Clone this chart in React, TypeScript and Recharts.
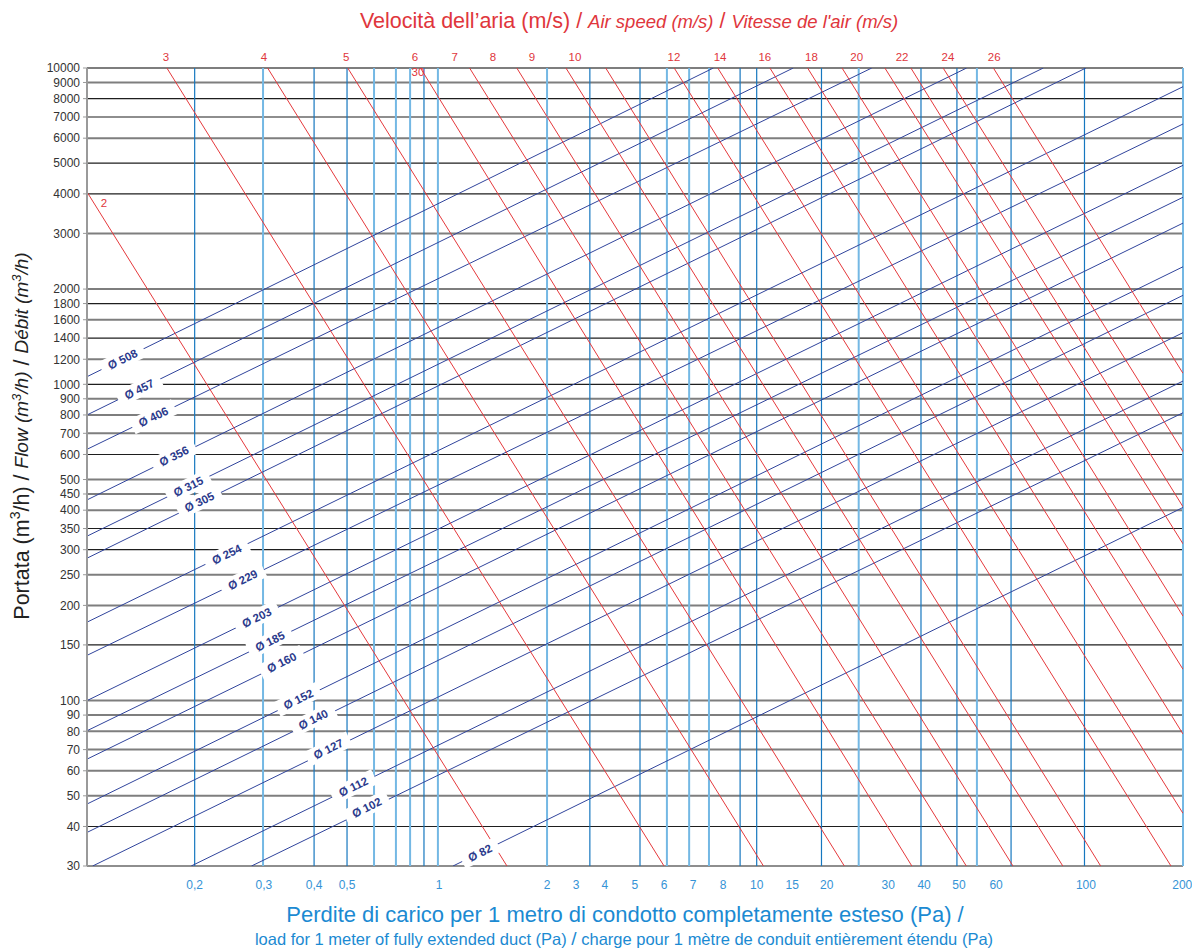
import React from "react";
import {
  ComposedChart,
  Line,
  XAxis,
  YAxis,
  ReferenceLine,
  ReferenceDot,
} from "recharts";

const FONT = '"Liberation Sans", Arial, Helvetica, sans-serif';

// flow axis, m3/h
const flowTicks = [
  30, 40, 50, 60, 70, 80, 90, 100, 150, 200, 250, 300, 350, 400, 450, 500,
  600, 700, 800, 900, 1000, 1200, 1400, 1600, 1800, 2000, 3000, 4000, 5000,
  6000, 7000, 8000, 9000, 10000,
];
const flowLinesDark = [30, 40, 150, 300, 350, 600, 1000, 1400, 1800, 4000, 5000, 7000, 8000];

// pressure loss axis, Pa (vertical rules as they sit in the drawing)
const paRulesDark = [0.211, 0.483, 0.607, 1.035, 3.27, 4.63, 9.27, 10.4, 16.3, 32.5, 41.7, 60.7, 101];
const paRulesLight = [0.339, 0.732, 0.852, 0.94, 1.14, 2.43, 5.58, 6.51, 7.47, 21.1, 47.9, 200];

// bottom labels and where each one is printed
const paTickLabels = ["0,2", "0,3", "0,4", "0,5", "1", "2", "3", "4", "5", "6", "7", "8", "10", "15", "20", "30", "40", "50", "60", "100", "200"];
const paTickAt = [0.211, 0.341, 0.483, 0.607, 1.149, 2.43, 2.97, 3.63, 4.47, 5.47, 6.69, 8.24, 10.4, 13.3, 16.9, 25.9, 33.2, 42.3, 54.7, 102, 199];

// air speed lines (m/s): entry and exit points [Pa, m3/h]
const speeds = [2, 3, 4, 5, 6, 7, 8, 9, 10, 12, 14, 16, 18, 20, 22, 24, 26, 30];
const speedStart: [number, number][] = [
  [0.1, 4055], [0.174, 10000], [0.35, 10000], [0.61, 10000], [1.01, 10000],
  [1.42, 10000], [1.97, 10000], [2.77, 10000], [3.65, 10000], [5.87, 10000],
  [7.94, 10000], [11.4, 10000], [14.8, 10000], [18.8, 10000], [25.3, 10000],
  [30.3, 10000], [37.9, 10000], [53.7, 10000],
];
const speedEnd: [number, number][] = [
  [1.84, 30], [5.47, 30], [10.9, 30], [19.1, 30], [30.5, 30], [44.5, 30],
  [61.5, 30], [86.9, 30], [113, 30], [184, 30], [200, 44], [200, 78.4],
  [200, 125.6], [200, 185], [200, 313], [200, 410], [200, 612], [200, 1083],
];
const speedLabelAt: [number, number][] = [
  [0.1125, 3743], [0.173, 10830], [0.341, 10830], [0.603, 10830], [0.973, 10830],
  [1.28, 10830], [1.67, 10830], [2.19, 10830], [2.95, 10830], [5.86, 10830],
  [8.07, 10830], [11.0, 10830], [15.2, 10830], [20.8, 10830], [28.5, 10830],
  [39.2, 10830], [54.0, 10830], [0.993, 9713],
];

// duct diameter lines (mm): entry and exit points [Pa, m3/h]
const diameters = [508, 457, 406, 356, 315, 305, 254, 229, 203, 185, 160, 152, 140, 127, 112, 102, 82];
const ductStart: [number, number][] = [
  [0.1, 1057], [0.1, 800], [0.1, 623], [0.1, 431], [0.1, 331], [0.1, 282],
  [0.1, 177], [0.1, 139], [0.1, 100], [0.1, 80.3], [0.1, 65.3], [0.1, 47.1],
  [0.1, 38.3], [0.104, 30], [0.206, 30], [0.313, 30], [1.266, 30],
];
const ductEnd: [number, number][] = [
  [7.7, 10000], [13.4, 10000], [23.1, 10000], [44.6, 10000], [75.9, 10000],
  [102, 10000], [200, 8728], [200, 6652], [200, 4924], [200, 3902],
  [200, 3233], [200, 2353], [200, 1911], [200, 1456], [200, 1024],
  [200, 813], [200, 408],
];
const ductLabelAt: [number, number][] = [
  [0.128, 1200], [0.1437, 964], [0.1584, 789], [0.1828, 593], [0.2019, 475],
  [0.2179, 425], [0.2635, 290], [0.2944, 241], [0.3245, 183], [0.3558, 154],
  [0.3859, 132], [0.4329, 101], [0.4803, 87.2], [0.5331, 70.3],
  [0.6343, 53.4], [0.6958, 45.9], [1.527, 33],
];

const RED = "#e5393c";
const NAVY = "#30449c";
const BLUE_DARK = "#1677bf";
const BLUE_LIGHT = "#74b8e4";

function DuctTag({ cx, cy, text }: { cx: number; cy: number; text: string }) {
  const w = text.length * 7.4 + 10;
  return (
    <g transform={`translate(${cx},${cy}) rotate(-26)`}>
      <rect x={-w / 2} y={-8} width={w} height={16} fill="#fff" />
      <text
        x={0}
        y={0}
        textAnchor="middle"
        dominantBaseline="central"
        fontFamily={FONT}
        fontSize={11.5}
        fontWeight="bold"
        fill="#2b3a8c"
      >
        {text}
      </text>
    </g>
  );
}

function SpeedTag({ cx, cy, text }: { cx: number; cy: number; text: string }) {
  return (
    <text
      x={cx}
      y={cy}
      textAnchor="middle"
      dominantBaseline="central"
      fontFamily={FONT}
      fontSize={11.5}
      fill="#e0363c"
    >
      {text}
    </text>
  );
}

const toPts = (a: [number, number], b: [number, number]) => [
  { x: a[0], y: a[1] },
  { x: b[0], y: b[1] },
];

export default function App() {
  return (
    <div style={{ position: "relative", width: 1192, height: 949, fontFamily: FONT }}>
      <style>{`body{margin:0}`}</style>

      <div
        style={{
          position: "absolute",
          left: 629,
          top: 9,
          transform: "translateX(-50%)",
          whiteSpace: "nowrap",
          color: "#e0363c",
          fontSize: 21.5,
          lineHeight: "24px",
        }}
      >
        Velocità dell’aria (m/s) / <i style={{ fontSize: 18.5 }}>Air speed (m/s)</i> /{" "}
        <i style={{ fontSize: 18.5 }}>Vitesse de l'air (m/s)</i>
      </div>

      <div
        style={{
          position: "absolute",
          left: 19,
          top: 436,
          transform: "translate(-50%,-50%) rotate(-90deg)",
          whiteSpace: "nowrap",
          color: "#222",
          fontSize: 21.5,
          lineHeight: "24px",
        }}
      >
        Portata (m<sup style={{ fontSize: 14 }}>3</sup>/h) /{" "}
        <i style={{ fontSize: 19 }}>
          Flow (m<sup style={{ fontSize: 13 }}>3</sup>/h)
        </i>{" "}
        /{" "}
        <i style={{ fontSize: 19 }}>
          Débit (m<sup style={{ fontSize: 13 }}>3</sup>/h)
        </i>
      </div>

      <div
        style={{
          position: "absolute",
          left: 625,
          top: 903,
          transform: "translateX(-50%)",
          whiteSpace: "nowrap",
          color: "#1b8ad2",
          fontSize: 22,
          lineHeight: "24px",
        }}
      >
        Perdite di carico per 1 metro di condotto completamente esteso (Pa) /
      </div>
      <div
        style={{
          position: "absolute",
          left: 624,
          top: 929,
          transform: "translateX(-50%)",
          whiteSpace: "nowrap",
          color: "#1b8ad2",
          fontSize: 16.5,
          lineHeight: "19px",
        }}
      >
        load for 1 meter of fully extended duct (Pa) <span style={{ fontSize: 19 }}>/</span> charge
        pour 1 mètre de conduit entièrement étendu (Pa)
      </div>

      <ComposedChart
        width={1192}
        height={949}
        margin={{ top: 68, right: 9, bottom: 53, left: 27 }}
        style={{ position: "absolute", left: 0, top: 0 }}
      >
        <XAxis
          type="number"
          dataKey="x"
          scale="log"
          domain={[0.1, 200]}
          allowDataOverflow
          ticks={paTickAt}
          interval={0}
          tickFormatter={(v: number) => paTickLabels[paTickAt.indexOf(v)] ?? ""}
          axisLine={false}
          tickLine={false}
          tickSize={0}
          tickMargin={14}
          height={30}
          tick={{ fontSize: 12, fill: "#3593d6", fontFamily: FONT }}
        />
        <YAxis
          type="number"
          dataKey="y"
          scale="log"
          domain={[30, 10000]}
          allowDataOverflow
          ticks={flowTicks}
          interval={0}
          width={60}
          tickSize={4}
          tickMargin={3}
          tickLine={{ stroke: "#999" }}
          axisLine={{ stroke: "#9a9a9a", strokeWidth: 2 }}
          tick={{ fontSize: 12, fill: "#333", fontFamily: FONT }}
        />

        {flowTicks.map((f) => {
          const dark = flowLinesDark.includes(f);
          return (
            <ReferenceLine
              key={`h${f}`}
              y={f}
              stroke={dark ? "#1e1e1e" : "#7e7e7e"}
              strokeWidth={dark ? 1.2 : 2}
            />
          );
        })}
        {paRulesLight.map((p) => (
          <ReferenceLine key={`vl${p}`} x={p} stroke={BLUE_LIGHT} strokeWidth={2} />
        ))}
        {paRulesDark.map((p) => (
          <ReferenceLine key={`vd${p}`} x={p} stroke={BLUE_DARK} strokeWidth={1.2} />
        ))}

        {diameters.map((d, i) => (
          <Line
            key={`d${d}`}
            data={toPts(ductStart[i], ductEnd[i])}
            dataKey="y"
            type="linear"
            stroke={NAVY}
            strokeWidth={1}
            dot={false}
            activeDot={false}
            isAnimationActive={false}
          />
        ))}
        {speeds.map((s, i) => (
          <Line
            key={`s${s}`}
            data={toPts(speedStart[i], speedEnd[i])}
            dataKey="y"
            type="linear"
            stroke={RED}
            strokeWidth={1}
            dot={false}
            activeDot={false}
            isAnimationActive={false}
          />
        ))}

        {diameters.map((d, i) => (
          <ReferenceDot
            key={`dl${d}`}
            x={ductLabelAt[i][0]}
            y={ductLabelAt[i][1]}
            r={1}
            ifOverflow="visible"
            shape={(p: any) => <DuctTag cx={p.cx} cy={p.cy} text={`Ø ${d}`} />}
          />
        ))}
        {speeds.map((s, i) => (
          <ReferenceDot
            key={`sl${s}`}
            x={speedLabelAt[i][0]}
            y={speedLabelAt[i][1]}
            r={1}
            ifOverflow="visible"
            shape={(p: any) => <SpeedTag cx={p.cx} cy={p.cy} text={String(s)} />}
          />
        ))}
      </ComposedChart>
    </div>
  );
}
